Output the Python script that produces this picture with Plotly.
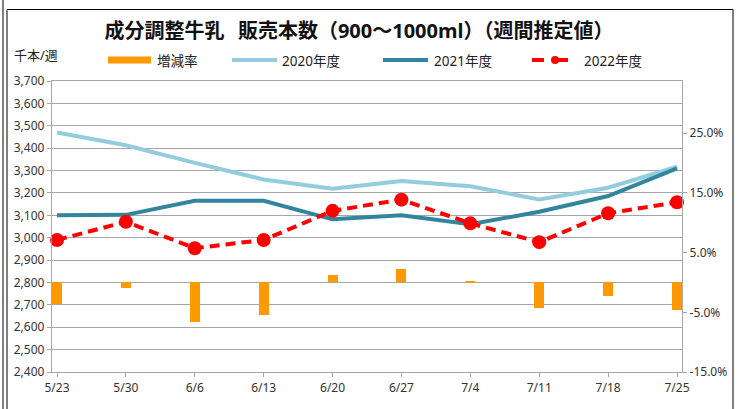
import plotly.graph_objects as go

# ---- data ----
weeks = ["5/23", "5/30", "6/6", "6/13", "6/20", "6/27", "7/4", "7/11", "7/18", "7/25"]
sales_2020 = [3470, 3413, 3334, 3260, 3219, 3253, 3230, 3171, 3223, 3317]
sales_2021 = [3100, 3102, 3165, 3165, 3082, 3100, 3060, 3116, 3186, 3310]
sales_2022 = [2990, 3071, 2953, 2990, 3120, 3170, 3064, 2980, 3109, 3158]
change_pct = [-3.6, -1.0, -6.6, -5.5, 1.2, 2.2, 0.2, -4.3, -2.3, -4.6]
left_ticks = list(range(2400, 3701, 100))
right_ticks = [-15, -5, 5, 15, 25]

W, H = 740, 409
ML, MR, MT, MB = 52, 58, 81, 37
PW, PH = W - ML - MR, H - MT - MB

def px(x):
    return (x - ML) / PW

def py(y):
    return (H - MB - y) / PH

FONT = "Noto Sans, Noto Sans CJK JP, sans-serif"
ORANGE = "#FF9900"
C2020 = "#93CDDD"
C2021 = "#31859C"
C2022 = "#FF0000"
GRID = "#A6A6A6"

xs = list(range(len(weeks)))

fig = go.Figure()
fig.add_trace(go.Bar(x=xs, y=change_pct, yaxis="y2", marker=dict(color=ORANGE, line=dict(width=0)),
                     width=0.145, name="増減率", showlegend=False))
fig.add_trace(go.Scatter(x=xs, y=sales_2020, mode="lines", line=dict(color=C2020, width=4),
                         name="2020年度", showlegend=False))
fig.add_trace(go.Scatter(x=xs, y=sales_2021, mode="lines", line=dict(color=C2021, width=4),
                         name="2021年度", showlegend=False))
fig.add_trace(go.Scatter(x=xs, y=sales_2022, mode="lines+markers",
                         line=dict(color=C2022, width=4, dash="10px,6px"),
                         marker=dict(color=C2022, size=14), cliponaxis=False,
                         name="2022年度", showlegend=False))

shapes = []
annotations = []
# outer frame
shapes.append(dict(type="line", xref="paper", yref="paper", x0=px(3), x1=px(3), y0=py(0), y1=py(420),
                   line=dict(color="#000", width=1)))
shapes.append(dict(type="rect", xref="paper", yref="paper", x0=px(7), x1=px(733), y0=py(9.5), y1=py(430),
                   line=dict(color="#000", width=1)))

# custom legend
leg_y = 60
legend_items = [
    ("増減率", 108, 151, 155, dict(color=ORANGE, width=7), False),
    ("2020年度", 232, 277, 280, dict(color=C2020, width=4), False),
    ("2021年度", 383, 428, 432, dict(color=C2021, width=4), False),
    ("2022年度", 532, 578, 582, dict(color=C2022, width=4, dash="dash"), True),
]
for label, x0, x1, tx, ln, dot in legend_items:
    shapes.append(dict(type="line", xref="paper", yref="paper", x0=px(x0), x1=px(x1),
                       y0=py(leg_y), y1=py(leg_y), line=ln))
    if dot:
        cx = (x0 + x1) / 2
        shapes.append(dict(type="circle", xref="paper", yref="paper", x0=px(cx - 4), x1=px(cx + 4),
                           y0=py(leg_y - 4), y1=py(leg_y + 4), fillcolor=C2022, line=dict(width=0)))
    annotations.append(dict(text=label, xref="paper", yref="paper", x=px(tx), y=py(leg_y + 1),
                            xanchor="left", yanchor="middle", showarrow=False,
                            font=dict(size=13.5, color="#222", family=FONT)))

annotations.append(dict(text="千本/週", xref="paper", yref="paper", x=px(12), y=py(55),
                        xanchor="left", yanchor="middle", showarrow=False,
                        font=dict(size=13, color="#222", family=FONT)))

fig.update_layout(
    width=W, height=H,
    margin=dict(l=ML, r=MR, t=MT, b=MB, pad=0),
    paper_bgcolor="white", plot_bgcolor="white",
    showlegend=False,
    bargap=0,
    title=dict(text="<b>成分調整牛乳\u2002\u2009販売本数（900～1000ml）（週間推定値）</b>",
               x=359 / W, xanchor="center", y=1 - 31 / H, yanchor="middle",
               font=dict(size=20, color="#111", family="Noto Sans, Noto Sans CJK JP, sans-serif")),
    font=dict(family=FONT, size=12, color="#333"),
    xaxis=dict(range=[-0.0726, 9.0726], tickvals=xs, ticktext=weeks, showgrid=False,
               showline=True, linecolor=GRID, linewidth=1.3, mirror=True,
               ticks="outside", ticklen=4, tickcolor=GRID, tickwidth=1.3,
               tickfont=dict(size=12, color="#333"), zeroline=False, fixedrange=True),
    yaxis=dict(range=[2400, 3700], tickvals=left_ticks,
               ticktext=[f"{v:,}" for v in left_ticks],
               showgrid=True, gridcolor=GRID, gridwidth=1.3,
               showline=True, linecolor=GRID, linewidth=1.3,
               ticks="outside", ticklen=4, tickcolor=GRID, tickwidth=1.3,
               tickfont=dict(size=12, color="#333"), zeroline=False),
    yaxis2=dict(range=[-15, 33.75], overlaying="y", side="right", tickvals=right_ticks,
                ticktext=[f"{v:.1f}%" for v in right_ticks], showgrid=False,
                showline=True, linecolor=GRID, linewidth=1.3,
                ticks="outside", ticklen=4, tickcolor=GRID, tickwidth=1.3,
                tickfont=dict(size=12, color="#333"), zeroline=False),
    shapes=shapes,
    annotations=annotations,
)

fig.write_html("out.html", config={"displayModeBar": False},
               post_script="document.body.style.margin='0px';")
